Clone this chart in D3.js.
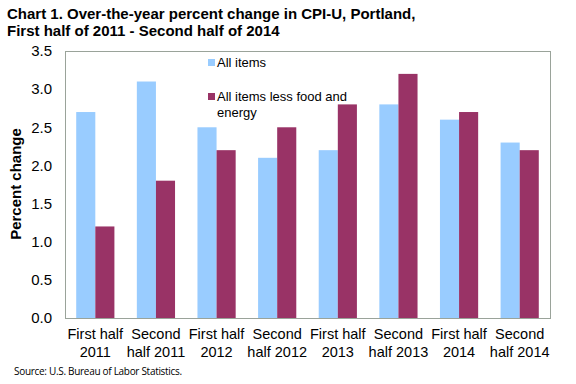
<!DOCTYPE html>
<html>
<head>
<meta charset="utf-8">
<script src="https://cdn.jsdelivr.net/npm/d3@7"></script>
<style>
  body { margin: 0; background: #fff; }
  svg { display: block; font-family: "Liberation Sans", Arial, sans-serif; }
</style>
</head>
<body>
<svg id="chart" width="576" height="384"></svg>
<script>
const categories = [
  ['First half', '2011'], ['Second', 'half 2011'], ['First half', '2012'], ['Second', 'half 2012'],
  ['First half', '2013'], ['Second', 'half 2013'], ['First half', '2014'], ['Second', 'half 2014']
];
const allItems = [2.7, 3.1, 2.5, 2.1, 2.2, 2.8, 2.6, 2.3];
const coreItems = [1.2, 1.8, 2.2, 2.5, 2.8, 3.2, 2.7, 2.2];
const seriesNames = ['All items', 'All items less food and energy'];
const seriesColors = ['#99ccff', '#993366'];
const yTicks = [0, 0.5, 1, 1.5, 2, 2.5, 3, 3.5];

const margin = { top: 51, right: 26, bottom: 66, left: 65 };
const width = 576 - margin.left - margin.right;
const height = 384 - margin.top - margin.bottom;

const svg = d3.select('#chart');
const g = svg.append('g').attr('transform', `translate(${margin.left},${margin.top})`);

const x = d3.scaleBand().domain(d3.range(categories.length)).range([0, width]).paddingInner(0.37).paddingOuter(0.185);
const xSub = d3.scaleBand().domain([0, 1]).range([0, x.bandwidth()]);
const y = d3.scaleLinear().domain([0, 3.5]).range([height, 0]);

// bars
const series = [allItems, coreItems];
series.forEach((vals, si) => {
  g.selectAll('.bar' + si)
    .data(vals)
    .enter()
    .append('rect')
    .attr('x', (d, i) => x(i) + xSub(si))
    .attr('y', d => y(d))
    .attr('width', xSub.bandwidth())
    .attr('height', d => height - y(d))
    .attr('fill', seriesColors[si]);
});

// frame
g.append('rect')
  .attr('width', width).attr('height', height)
  .attr('fill', 'none').attr('stroke', '#9aa39a').attr('stroke-width', 1)
  .attr('shape-rendering', 'crispEdges');

// y axis labels
const yAxis = d3.axisLeft(y).tickValues(yTicks).tickFormat(d3.format('.1f')).tickSize(0).tickPadding(13);
g.append('g').call(yAxis)
  .call(a => a.select('.domain').remove())
  .selectAll('text')
  .attr('font-size', 15).attr('fill', '#000')
  .attr('font-family', '"Liberation Sans", Arial, sans-serif');

// x labels
const xl = g.append('g').attr('transform', `translate(0,${height})`);
categories.forEach((c, i) => {
  const t = xl.append('text')
    .attr('x', x(i) + x.bandwidth() / 2)
    .attr('text-anchor', 'middle')
    .attr('font-size', 14.5);
  t.append('tspan').attr('x', x(i) + x.bandwidth() / 2).attr('y', 21).text(c[0]);
  t.append('tspan').attr('x', x(i) + x.bandwidth() / 2).attr('y', 39).text(c[1]);
});

// axis title
svg.append('text')
  .attr('transform', 'translate(21,184) rotate(-90)')
  .attr('text-anchor', 'middle')
  .attr('font-size', 15).attr('font-weight', 'bold')
  .text('Percent change');

// title
const title = svg.append('text').attr('font-size', 15).attr('font-weight', 'bold');
title.append('tspan').attr('x', 7).attr('y', 19).text('Chart 1. Over-the-year percent change in CPI-U, Portland,');
title.append('tspan').attr('x', 7).attr('y', 36).text('First half of 2011  - Second half of 2014');

// legend
const legend = svg.append('g');
legend.append('rect').attr('x', 208).attr('y', 59).attr('width', 7).attr('height', 7).attr('fill', seriesColors[0]);
legend.append('text').attr('x', 217).attr('y', 67).attr('font-size', 13).text(seriesNames[0]);
legend.append('rect').attr('x', 208).attr('y', 93).attr('width', 7).attr('height', 7).attr('fill', seriesColors[1]);
const lt = legend.append('text').attr('font-size', 13);
lt.append('tspan').attr('x', 217).attr('y', 101).text('All items less food and');
lt.append('tspan').attr('x', 217).attr('y', 117).text('energy');

// source
svg.append('text')
  .attr('x', 14).attr('y', 375)
  .attr('font-size', 10)
  .attr('font-family', '"Open Sans", sans-serif')
  .attr('letter-spacing', -0.3)
  .text('Source: U.S. Bureau of Labor Statistics.');
</script>
</body>
</html>
